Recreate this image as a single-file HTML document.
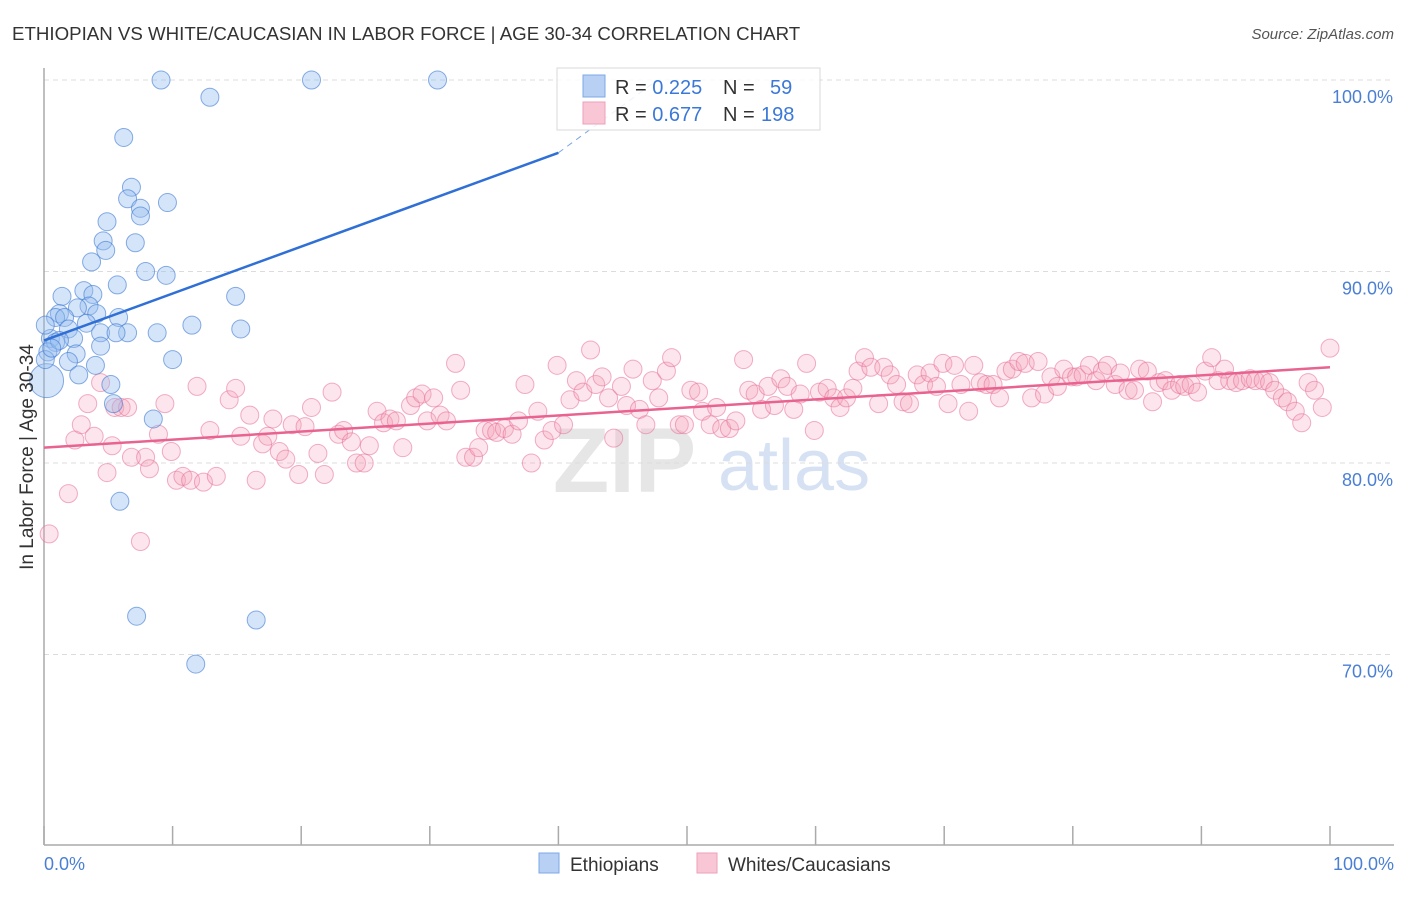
<!DOCTYPE html>
<html><head><meta charset="utf-8"><style>
body{margin:0;background:#fff;font-family:"Liberation Sans",sans-serif;}
svg text{font-family:"Liberation Sans",sans-serif;}
</style></head><body>
<svg id="chart" width="1406" height="892" xmlns="http://www.w3.org/2000/svg">
<text x="12" y="40" font-size="18.7" fill="#333">ETHIOPIAN VS WHITE/CAUCASIAN IN LABOR FORCE | AGE 30-34 CORRELATION CHART</text>
<text x="1394" y="39" font-size="15" fill="#555" font-style="italic" text-anchor="end">Source: ZipAtlas.com</text>
<g>
<text x="553" y="492" font-size="92" fill="#e6e6e6" font-family="Liberation Serif" font-weight="bold">ZIP</text>
<text x="718" y="490" font-size="72" fill="#d6e2f3">atlas</text>
</g>
<g id="grid"></g>
<g id="axes"></g>
<g id="pts"></g>
<g id="lines"></g>
<g>
<rect x="557" y="68" width="263" height="62" fill="#fff" fill-opacity="0.85" stroke="#d8d8d8"/>
<rect x="583" y="75" width="22" height="22" fill="#b7d0f4" stroke="#7ea8e6"/>
<rect x="583" y="102" width="22" height="22" fill="#f9c6d5" stroke="#eba2b8"/>
<text x="615" y="94" font-size="20" fill="#333">R = <tspan fill="#3b78d8">0.225</tspan><tspan x="723">N = </tspan><tspan x="770" fill="#3b78d8">59</tspan></text>
<text x="615" y="121" font-size="20" fill="#333">R = <tspan fill="#3b78d8">0.677</tspan><tspan x="723">N = </tspan><tspan x="761" fill="#3b78d8">198</tspan></text>
</g>
<text transform="translate(33,457) rotate(-90)" text-anchor="middle" font-size="19" fill="#333">In Labor Force | Age 30-34</text>
<text x="44" y="870" font-size="18" fill="#4a7fd4">0.0%</text>
<text x="1394" y="870" font-size="18" fill="#4a7fd4" text-anchor="end">100.0%</text>
<g>
<rect x="539" y="853" width="20" height="20" fill="#b7d0f4" stroke="#7ea8e6"/>
<text x="570" y="871" font-size="19" fill="#333">Ethiopians</text>
<rect x="697" y="853" width="20" height="20" fill="#f9c6d5" stroke="#eba2b8"/>
<text x="728" y="871" font-size="19" fill="#333">Whites/Caucasians</text>
</g>
</svg>
<script>
const yTicks=[100,90,80,70];
const yTickLabels=["100.0%","90.0%","80.0%","70.0%"];
const xTicks=[0,10,20,30,40,50,60,70,80,90,100];
const blueX=[9.1,20.8,30.6,12.9,6.2,6.8,6.5,7.5,7.5,9.6,4.9,4.6,7.1,4.8,3.7,7.9,9.5,5.7,3.1,1.4,3.8,14.9,3.5,1.2,2.6,4.1,0.9,1.6,3.3,5.8,11.5,15.3,1.9,4.4,6.5,8.8,5.6,0.5,2.3,4.4,2.5,0.9,0.3,10.0,1.9,4.0,2.7,5.2,5.4,8.5,5.9,7.2,16.5,11.8,0.2,0.1,1.2,0.1,0.6];
const blueY=[100,100,100,99.1,97.0,94.4,93.8,93.3,92.9,93.6,92.6,91.6,91.5,91.1,90.5,90.0,89.8,89.3,89.0,88.7,88.8,88.7,88.2,87.8,88.1,87.8,87.6,87.6,87.3,87.6,87.2,87.0,87.0,86.8,86.8,86.8,86.8,86.5,86.5,86.1,85.7,86.3,85.8,85.4,85.3,85.1,84.6,84.1,83.1,82.3,78.0,72.0,71.8,69.5,84.3,85.4,86.4,87.2,86.0];
const blueSize=[1,1,1,1,1,1,1,1,1,1,1,1,1,1,1,1,1,1,1,1,1,1,1,1,1,1,1,1,1,1,1,1,1,1,1,1,1,1,1,1,1,1,1,1,1,1,1,1,1,1,1,1,1,1,2,1,1,1,1];
const pinkX=[0.4,1.9,2.4,2.9,3.4,3.9,4.4,4.9,5.3,5.5,6.0,6.5,6.8,7.5,7.9,8.2,8.9,9.4,9.9,10.3,10.8,11.4,11.9,12.4,12.9,13.4,14.4,14.9,15.3,16.0,16.5,17.0,17.4,17.8,18.3,18.8,19.3,19.8,20.3,20.8,21.3,21.8,22.4,22.9,23.3,23.9,24.3,24.9,25.3,25.9,26.4,26.9,27.4,27.9,28.5,28.9,29.4,29.8,30.3,30.8,31.3,32.0,32.4,32.8,33.4,33.8,34.3,34.8,35.2,35.8,36.4,36.9,37.4,37.9,38.4,38.9,39.5,39.9,40.4,40.9,41.4,41.9,42.5,42.9,43.4,43.9,44.3,44.9,45.3,45.8,46.3,46.8,47.3,47.8,48.4,48.8,49.4,49.8,50.3,50.9,51.2,51.8,52.3,52.7,53.3,53.8,54.4,54.8,55.3,55.8,56.3,56.8,57.3,57.8,58.3,58.8,59.3,59.9,60.3,60.9,61.4,61.9,62.4,62.9,63.3,63.8,64.3,64.9,65.3,65.8,66.3,66.8,67.3,67.9,68.4,68.9,69.4,69.9,70.3,70.8,71.3,71.9,72.3,72.8,73.3,73.8,74.3,74.8,75.3,75.8,76.3,76.8,77.3,77.8,78.3,78.8,79.3,79.9,80.3,80.8,81.3,81.8,82.3,82.7,83.3,83.7,84.3,84.8,85.2,85.8,86.2,86.7,87.2,87.7,88.3,88.7,89.2,89.7,90.3,90.8,91.3,91.8,92.2,92.7,93.2,93.8,94.2,94.8,95.3,95.7,96.3,96.7,97.3,97.8,98.3,98.8,99.4,100];
const pinkY=[76.3,78.4,81.2,82.0,83.1,81.4,84.2,79.5,80.9,82.9,82.9,82.9,80.3,75.9,80.3,79.7,81.5,83.1,80.6,79.1,79.3,79.1,84.0,79.0,81.7,79.3,83.3,83.9,81.4,82.5,79.1,81.0,81.4,82.3,80.6,80.2,82.0,79.4,81.9,82.9,80.5,79.4,83.7,81.5,81.7,81.1,80.0,80.0,80.9,82.7,82.1,82.3,82.2,80.8,83.0,83.4,83.6,82.2,83.4,82.5,82.2,85.2,83.8,80.3,80.3,80.8,81.7,81.7,81.6,81.8,81.5,82.2,84.1,80.0,82.7,81.2,81.7,85.1,82.0,83.3,84.3,83.7,85.9,84.1,84.5,83.4,81.3,84.0,83.0,84.9,82.8,82.0,84.3,83.4,84.8,85.5,82.0,82.0,83.8,83.7,82.7,82.0,82.9,81.8,81.8,82.2,85.4,83.8,83.6,82.8,84.0,83.0,84.4,84.0,82.8,83.6,85.2,81.7,83.7,83.9,83.4,82.9,83.4,83.9,84.8,85.5,85.0,83.1,85.0,84.6,84.1,83.2,83.1,84.6,84.1,84.7,84.0,85.2,83.1,85.1,84.1,82.7,85.1,84.2,84.1,84.1,83.4,84.8,84.9,85.3,85.2,83.4,85.3,83.6,84.5,84.0,84.9,84.5,84.5,84.6,85.1,84.3,84.8,85.1,84.1,84.7,83.8,83.8,84.9,84.8,83.2,84.2,84.3,83.8,84.1,84.0,84.1,83.7,84.8,85.5,84.3,84.9,84.3,84.2,84.3,84.4,84.3,84.3,84.2,83.8,83.4,83.2,82.7,82.1,84.2,83.8,82.9,86.0];
const blueTrend=[86.4,96.2,100];
const blueTrendX=[0,40,47.7];
const pinkTrend=[80.8,85.0];
const pinkTrendX=[0,100];

const X0=44,X1=1330,Y100=80,PX_PER=19.15;
function sx(v){return X0+(X1-X0)*v/100;}
function sy(v){return Y100+(100-v)*PX_PER;}
const NS="http://www.w3.org/2000/svg";
function mk(tag,attrs,parent){const e=document.createElementNS(NS,tag);for(const k in attrs)e.setAttribute(k,attrs[k]);parent.appendChild(e);return e;}

const grid=document.getElementById('grid');
yTicks.forEach((t,i)=>{
  const l=mk('line',{x1:44,x2:1394,y1:sy(t),y2:sy(t),stroke:'#dcdcdc','stroke-dasharray':'5,4'},grid);
  
  
  const tx=mk('text',{x:1393,y:sy(t)+23,'text-anchor':'end','font-size':18,fill:'#4a7fd4'},grid);
  tx.textContent=yTickLabels[i];
  
  
});
const axes=document.getElementById('axes');
const ya=mk('line',{x1:44,x2:44,y1:68,y2:845,stroke:'#aaa','stroke-width':1.5},axes);


const xa=mk('line',{x1:44,x2:1394,y1:845,y2:845,stroke:'#aaa','stroke-width':1.5},axes);


xTicks.forEach(t=>{
  const k=mk('line',{x1:sx(t),x2:sx(t),y1:826,y2:845,stroke:'#aaa','stroke-width':1.5},axes);
  
  
});
const pts=document.getElementById('pts');
pinkX.forEach((x,i)=>{
  const c=mk('circle',{cx:sx(x),cy:sy(pinkY[i]),r:9,fill:'rgba(244,160,185,0.28)',stroke:'rgba(232,110,150,0.55)','stroke-width':1},pts);
  
  
});
blueX.forEach((x,i)=>{
  const c=mk('circle',{cx:sx(x),cy:sy(blueY[i]),r:blueSize[i]>1?17:9,fill:'rgba(150,190,240,0.4)',stroke:'rgba(60,120,210,0.6)','stroke-width':1},pts);
  
  
});
const lines=document.getElementById('lines');
const b1=mk('line',{x1:sx(blueTrendX[0]),y1:sy(blueTrend[0]),x2:sx(blueTrendX[1]),y2:sy(blueTrend[1]),stroke:'#2f6fd6','stroke-width':2.5},lines);


const b2=mk('line',{x1:sx(blueTrendX[1]),y1:sy(blueTrend[1]),x2:sx(blueTrendX[2]),y2:sy(blueTrend[2]),stroke:'#7aa6e6','stroke-width':1,'stroke-dasharray':'6,5'},lines);


const p1=mk('line',{x1:sx(pinkTrendX[0]),y1:sy(pinkTrend[0]),x2:sx(pinkTrendX[1]),y2:sy(pinkTrend[1]),stroke:'#e8638f','stroke-width':2.5},lines);


</script>
</body></html>
